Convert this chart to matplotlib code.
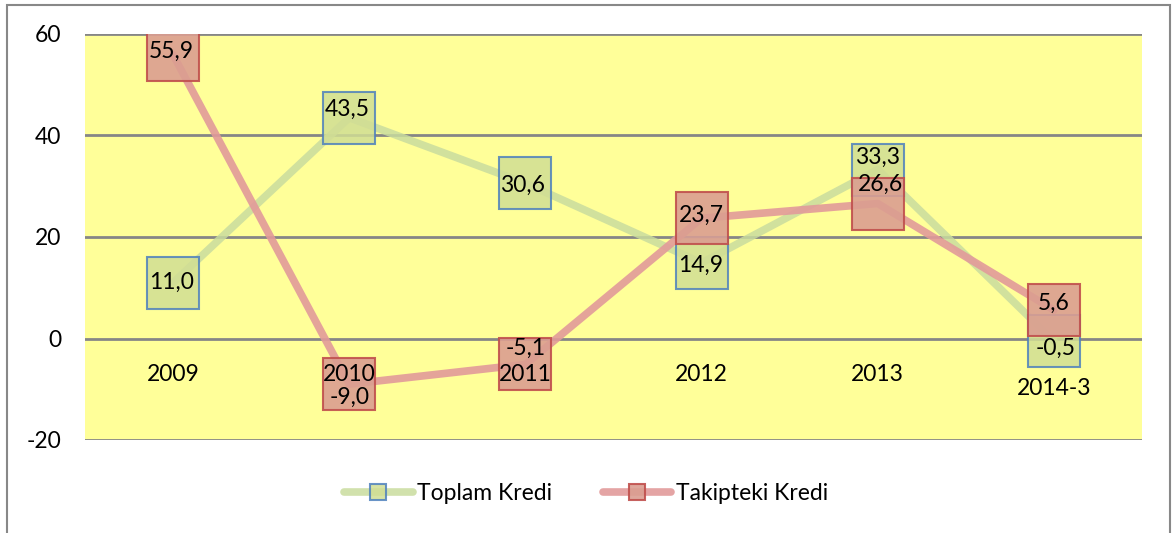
import matplotlib.pyplot as plt
from matplotlib.patches import Rectangle
import matplotlib.transforms as mtransforms

plt.rcParams["font.family"] = ["Lato", "DejaVu Sans"]
plt.rcParams["axes.unicode_minus"] = False

years = ["2009", "2010", "2011", "2012", "2013", "2014-3"]
toplam = [11.0, 43.5, 30.6, 14.9, 33.3, -0.5]
takipteki = [55.9, -9.0, -5.1, 23.7, 26.6, 5.6]

# label nudges in pixels (dx, dy), so they don't collide like in the original
toplam_off = [(-2, 0), (-2, 8), (-3, -2), (-1, -2), (0, 12), (2, -7)]
takipteki_off = [(-2, 3), (0, -13), (0, 16), (0, 3), (3, 19), (0, 7)]

fig = plt.figure(figsize=(11.72, 5.33), dpi=100)
ax = fig.add_axes([85 / 1172, 1 - 440 / 533, (1142 - 85) / 1172, (440 - 34) / 533])

# outer chart border
fig.patches.append(Rectangle((7 / 1172, -0.1), (1170 - 7) / 1172, 1.1 - 5 / 533,
                             transform=fig.transFigure, fill=False,
                             edgecolor="#888888", linewidth=1.5))

ax.set_facecolor("#FFFF99")
x = [i + 0.5 for i in range(len(years))]

l1, = ax.plot(x, toplam, color="#C9DC9E", alpha=0.85, linewidth=5.5,
              marker="s", markersize=38, markerfacecolor=(0.82, 0.87, 0.58, 0.85),
              markeredgecolor="#4F81BD", markeredgewidth=1.5, zorder=3,
              solid_capstyle="round", label="Toplam Kredi")
l2, = ax.plot(x, takipteki, color="#E29A9A", alpha=0.9, linewidth=5.5,
              marker="s", markersize=38, markerfacecolor=(0.86, 0.62, 0.57, 0.8),
              markeredgecolor="#C0504D", markeredgewidth=1.5, zorder=4,
              solid_capstyle="round", label="Takipteki Kredi")

for xi, v, (dx, dy) in zip(x, toplam, toplam_off):
    ax.annotate(f"{v:.1f}".replace(".", ","), (xi, v), xytext=(dx * 0.72, dy * 0.72),
                textcoords="offset points", ha="center", va="center",
                fontsize=16.5, zorder=6)
for xi, v, (dx, dy) in zip(x, takipteki, takipteki_off):
    ax.annotate(f"{v:.1f}".replace(".", ","), (xi, v), xytext=(dx * 0.72, dy * 0.72),
                textcoords="offset points", ha="center", va="center",
                fontsize=16.5, zorder=6)

ax.set_xlim(0, 6)
ax.set_ylim(-20, 60)
ax.set_yticks([-20, 0, 20, 40, 60])
ax.yaxis.grid(True, color="#868686", linewidth=2)
ax.set_axisbelow(True)
for s in ax.spines.values():
    s.set_visible(False)
ax.tick_params(axis="y", length=0, labelsize=16.5, pad=17)

# category labels sit just under the zero line, drawn over the markers
ax.spines["bottom"].set_position(("data", 0))
ax.set_xticks(x)
ax.set_xticklabels(years)
ax.tick_params(axis="x", length=0, labelsize=16.5, pad=18.5)
ax.xaxis.set_zorder(7)
last = ax.get_xticklabels()[-1]
last.set_transform(last.get_transform() + mtransforms.ScaledTranslation(0, -14 / 100, fig.dpi_scale_trans))

leg = fig.legend(handles=[l1, l2], loc="center", bbox_to_anchor=(0.5, 1 - 494 / 533),
                 ncol=2, frameon=False, fontsize=16.5, markerscale=0.32,
                 handlelength=3.0, columnspacing=2.2, handletextpad=0.2)

fig.savefig("out.png", dpi=100)
